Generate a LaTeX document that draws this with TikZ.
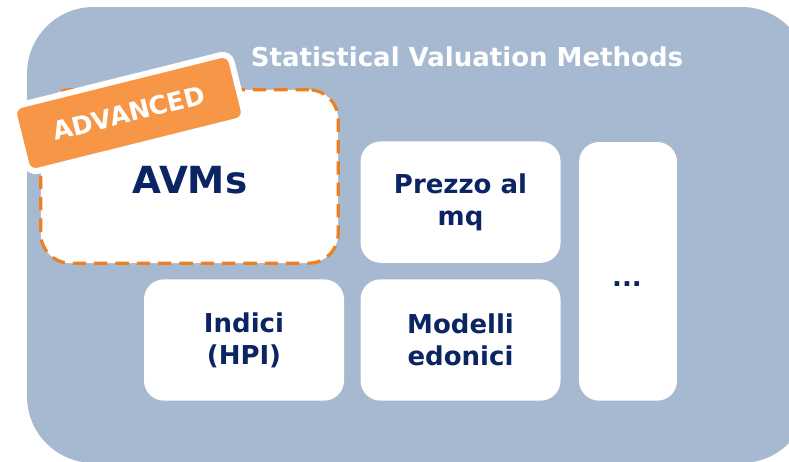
\documentclass[tikz,border=0pt]{standalone}
\usepackage{fontspec}
\setmainfont{DejaVu Sans}
\usepackage{xcolor}
\usepackage{tikz}
\usetikzlibrary{positioning}
\definecolor{PanelBlue}{HTML}{A6B9D0}
\definecolor{NavyText}{HTML}{0B2463}
\definecolor{AdvOrange}{HTML}{F79646}
\definecolor{DashOrange}{HTML}{EC7F1E}
\tikzset{
    panel/.style={fill=PanelBlue, rounded corners=50pt},
    methodbox/.style={rectangle, rounded corners=15pt, fill=white, text=NavyText,
        align=center, inner sep=0pt, minimum width=150pt, minimum height=91pt,
        font=\bfseries\fontsize{19.5}{24}\selectfont},
    avmbox/.style={rectangle, rounded corners=22pt, fill=white, draw=DashOrange,
        line width=2.4pt, dash pattern=on 10pt off 6pt, text=NavyText,
        inner sep=0pt, minimum width=223pt, minimum height=130pt},
    badgebox/.style={rectangle, rounded corners=7pt, fill=AdvOrange, draw=white,
        line width=4.5pt, text=white, inner sep=0pt, minimum width=168pt,
        minimum height=51pt, font=\bfseries\fontsize{19}{22}\selectfont},
}
\begin{document}
\begin{tikzpicture}[x=0.75pt, y=-0.75pt]
    \useasboundingbox (0,0) rectangle (789,461);
    \clip (0,0) rectangle (789,461);
    % background panel
    \fill[panel] (27,7) rectangle (808,463);
    \node[text=white, font=\bfseries\fontsize{19.5}{22}\selectfont] (title) at (467,57)
        {Statistical Valuation Methods};

    % method boxes
    \node[methodbox] (indici) at (244,340) {Indici\\(HPI)};
    \node[methodbox, right=12pt of indici] (modelli) {Modelli\\edonici};
    \node[methodbox, above=12pt of modelli] (prezzo) {Prezzo al\\mq};
    \node[methodbox, minimum width=73.5pt, minimum height=194pt,
        right=13.5pt of modelli.south east, anchor=south west] (dots) {};
    \node[text=NavyText, font=\bfseries\fontsize{19.5}{24}\selectfont] (dotslabel)
        at (627,284) {...};

    % advanced methods
    \node[avmbox] (avm) at (189.5,176.5) {};
    \node[text=NavyText, font=\bfseries\fontsize{28}{32}\selectfont] (avmlabel)
        at (190,180) {AVMs};
    \node[badgebox, rotate=14] (badge) at (129,113) {ADVANCED};
\end{tikzpicture}
\end{document}
